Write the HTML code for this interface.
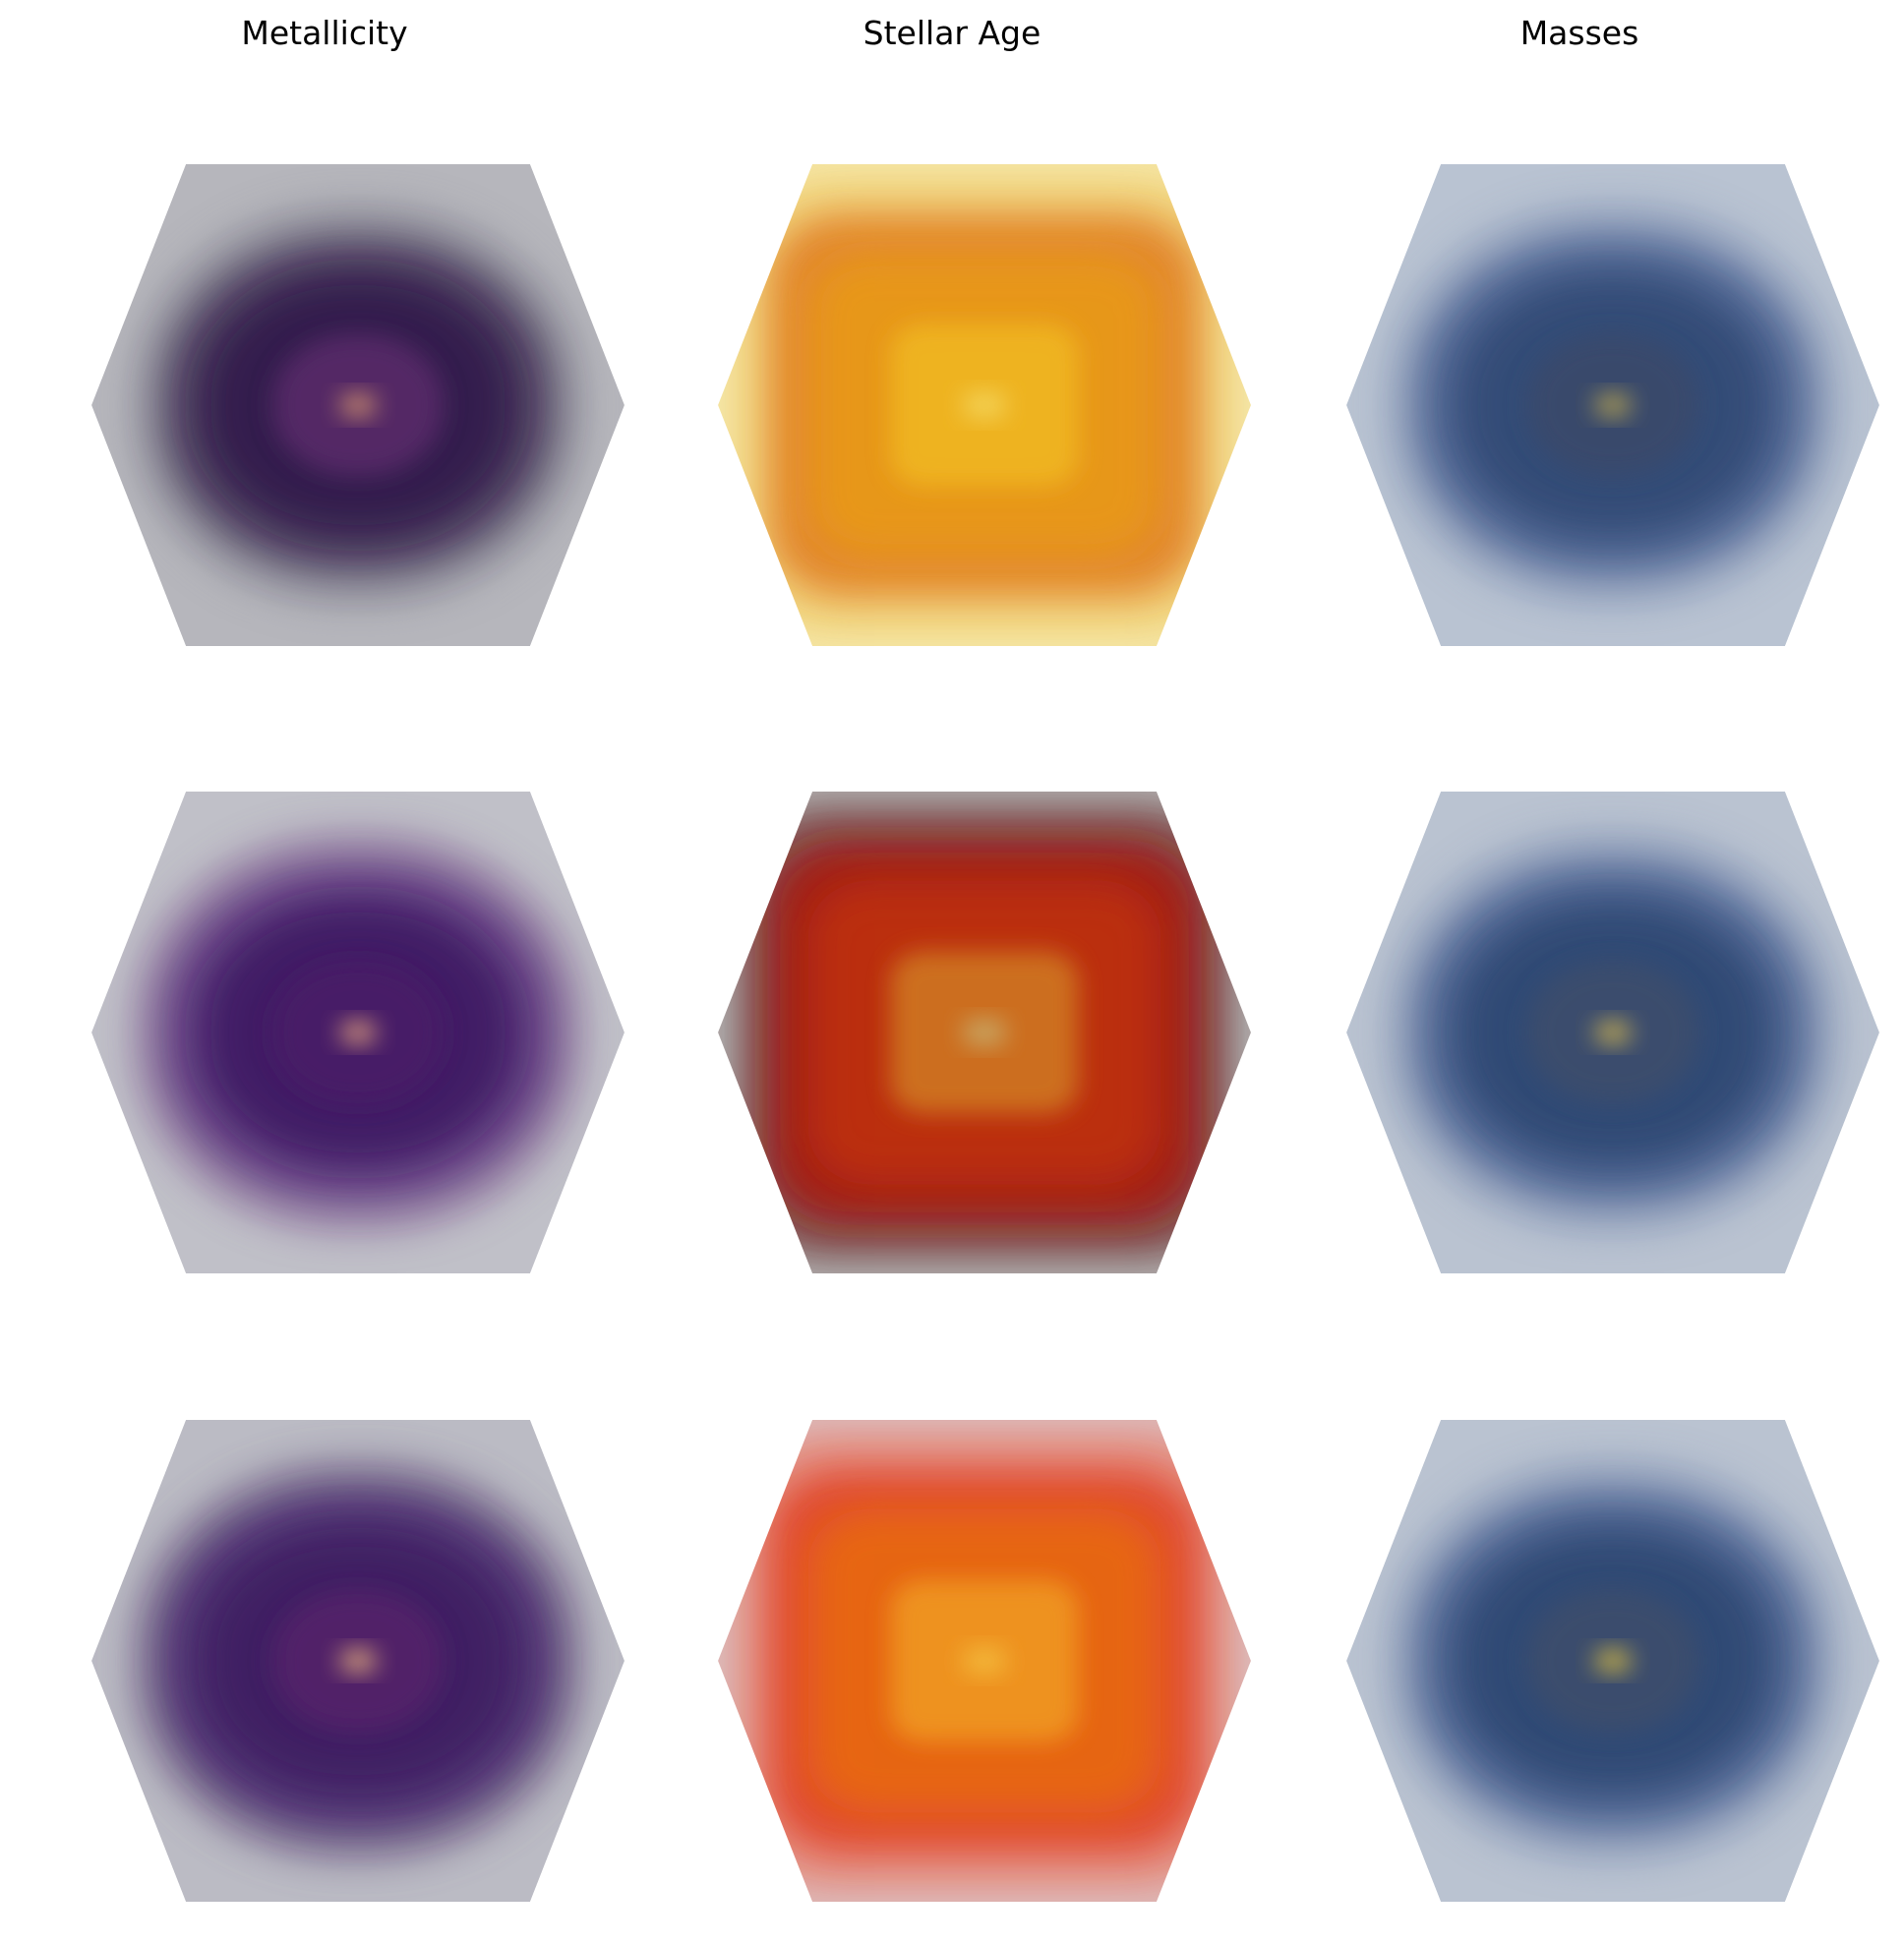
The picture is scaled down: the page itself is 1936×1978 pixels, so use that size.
<!DOCTYPE html>
<html><head><meta charset="utf-8"><style>
html,body{margin:0;padding:0;background:#fff;}
svg{display:block;}
text{font-family:"DejaVu Sans","Liberation Sans",sans-serif;}
</style></head><body>
<svg id="fig" width="1936" height="1978" viewBox="0 0 1936 1978" xmlns="http://www.w3.org/2000/svg">
<defs>
<filter id="b1" x="-50%" y="-50%" width="200%" height="200%"><feGaussianBlur stdDeviation="12"/></filter>
<filter id="b2" x="-50%" y="-50%" width="200%" height="200%"><feGaussianBlur stdDeviation="20"/></filter>
</defs>
<g id="panels"></g>
</svg>
<script>
const colTitles = ["Metallicity", "Stellar Age", "Masses"];
const titleX = [330, 968, 1606];
const colCenters = [364, 1001, 1640];
const rowCenters = [412, 1050, 1689];
// per-panel background [row][col]
const panelBg = [
 ["#b6b6bc","#f5e6a8","#b9c3d2"],
 ["#c0c0c8","#b3b3b3","#bac3d1"],
 ["#bbbbc4","#dcbcbc","#bac3d1"]
];
// per-panel layer colours [col][row]: outer -> core
const panelLayers = [
 [["#8a8a96","#4a3b5c","#2d1548","#5a2a6a","#e0a070"],
  ["#8a6d9a","#5e3a80","#3a1860","#4a1d68","#f0b080"],
  ["#6a5a80","#4a2a70","#3d1a60","#55226a","#f5c080"]],
 [["#f0d070","#e07a20","#e89a18","#f0b820","#f4d860"],
  ["#6a3030","#a81810","#c03010","#d07a20","#c8b070"],
  ["#e88070","#e04020","#e86a10","#f09a20","#f4c040"]],
 [["#8a9ab8","#4a6090","#2e4672","#3a4a6a","#c8b050"],
  ["#8a9ab8","#4a6090","#2c4470","#3c4e6c","#e0c050"],
  ["#8a9ab8","#4a6090","#2c4470","#3c4e6c","#e8c840"]]
];
// relative blob extents (fraction of hex half-width / half-height)
const layerRx = [0.84, 0.74, 0.6, 0.32, 0.07];
const layerRy = [0.9, 0.76, 0.6, 0.32, 0.05];
const colWidth = [1.0, 1.1, 1.0];

const HW = 271, HH = 245, TW = 175;
const svg = document.getElementById('fig');
const g = document.getElementById('panels');
const NS = "http://www.w3.org/2000/svg";

colTitles.forEach((t, c) => {
  const tx = document.createElementNS(NS, 'text');
  
  
  tx.setAttribute('x', titleX[c]);
  tx.setAttribute('y', 45);
  tx.setAttribute('text-anchor', 'middle');
  tx.setAttribute('font-size', '33');
  tx.setAttribute('fill', '#000');
  tx.textContent = t;
  svg.appendChild(tx);
});

rowCenters.forEach((cy, r) => {
  colCenters.forEach((cx, c) => {
    const pts = [[cx-HW,cy],[cx-TW,cy-HH],[cx+TW,cy-HH],[cx+HW,cy],[cx+TW,cy+HH],[cx-TW,cy+HH]].map(p=>p.join(',')).join(' ');
    const id = 'clip' + r + c;
    const cp = document.createElementNS(NS, 'clipPath');
    cp.setAttribute('id', id);
    const cpp = document.createElementNS(NS, 'polygon');
    cpp.setAttribute('points', pts);
    cp.appendChild(cpp);
    svg.querySelector('defs').appendChild(cp);

    const pg = document.createElementNS(NS, 'g');
    
    
    pg.setAttribute('clip-path', 'url(#' + id + ')');
    const bg = document.createElementNS(NS, 'polygon');
    
    
    bg.setAttribute('points', pts);
    bg.setAttribute('fill', panelBg[r][c]);
    pg.appendChild(bg);
    const cols = panelLayers[c][r];
    const wide = colWidth[c];
    const corner = (c === 1) ? 0.35 : 0.95;
    cols.forEach((col, i) => {
      const e = document.createElementNS(NS, 'rect');
      
      
      const rx = HW * layerRx[i] * wide, ry = HH * layerRy[i] * (c===1 ? 1.05 : 0.92);
      e.setAttribute('x', cx - rx);
      e.setAttribute('y', cy - ry);
      e.setAttribute('width', 2 * rx);
      e.setAttribute('height', 2 * ry);
      e.setAttribute('rx', rx * corner);
      e.setAttribute('ry', ry * corner);
      e.setAttribute('fill', col);
      e.setAttribute('opacity', i === 0 ? 0.7 : 0.85);
      e.setAttribute('filter', i < 3 ? 'url(#b2)' : 'url(#b1)');
      pg.appendChild(e);
    });
    g.appendChild(pg);
  });
});
</script>
</body></html>
